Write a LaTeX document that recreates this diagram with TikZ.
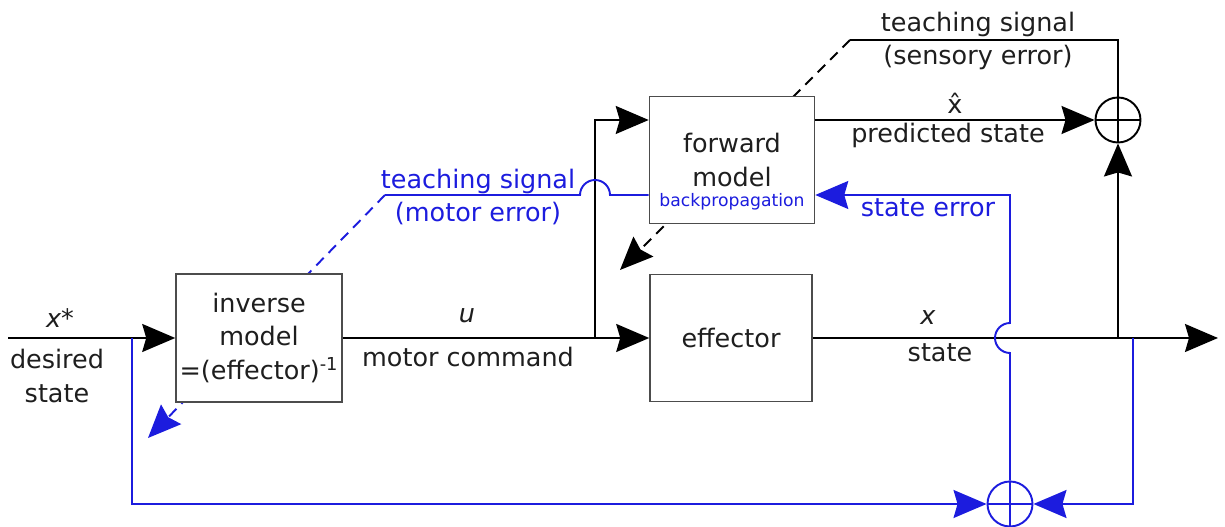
\documentclass[tikz,border=0pt]{standalone}
\usepackage{fontspec}
\setmainfont{DejaVu Sans}
\usetikzlibrary{arrows.meta,backgrounds}
\definecolor{sigblue}{RGB}{28,28,222}
\definecolor{txtgray}{RGB}{30,30,30}
\tikzset{
	block/.style={draw=black!70, line width=0.9pt, fill=white, text=txtgray, inner sep=0pt},
	sum/.style={circle, draw=#1, line width=1.1pt, fill=white, minimum size=0.9cm, inner sep=0pt,
		path picture={\draw[#1, line width=1.1pt] (path picture bounding box.north) -- (path picture bounding box.south)
			(path picture bounding box.west) -- (path picture bounding box.east);}},
	sum/.default=black,
	lbl/.style={text=txtgray, inner sep=1pt},
	teachline/.style={line width=1.1pt, dash pattern=on 6pt off 4pt},
}
\begin{document}
\begin{tikzpicture}[x=0.02cm, y=0.02cm, >={Stealth[length=6.6mm,width=5.6mm,inset=0.8mm]},
	line width=1.1pt, font=\fontsize{14.5}{19}\selectfont]
			\useasboundingbox (0,0) rectangle (1225,527);
			
			\node[block, minimum width=3.32cm, minimum height=2.56cm, align=center] (inv) at (259,189)
				{inverse\\model\\=(effector)\textsuperscript{-1}};
			\node[block, minimum width=3.3cm, minimum height=2.54cm] (fwd) at (732,367) {};
			\node[lbl, align=center] (fwdtxt) at (732,367) {forward\\model};
			\node[text=sigblue, inner sep=0pt, font=\fontsize{9.8}{12}\selectfont] (bprop) at (732,325) {backpropagation};
			\node[block, minimum width=3.24cm, minimum height=2.54cm] (eff) at (731,189) {effector};
			\node[sum] (sumtop) at (1118,407) {};
			\node[sum=sigblue] (sumbot) at (1010,23) {};
			
			\coordinate (src) at (8,189);
			\coordinate (br) at (595,189);
			\coordinate (tapu) at (1118,189);
			\coordinate (tapb) at (1133,189);
			\coordinate (out) at (1218,189);
			\coordinate (fb) at (132,189);
			\coordinate (tsens) at (850,487);
			\coordinate (tmot) at (385,332);
			\coordinate (fwdgrad) at (620,257);
			\coordinate (invgrad) at (148,89);
			
			\draw[->] (src) -- (inv.west);
			\draw[->] (inv.east) -- (eff.west);
			\draw[->] (br) |- (fwd.west |- sumtop);
			\draw[->] (fwd.east |- sumtop) -- (sumtop.west);
			\draw[->] (eff.east) -- (out);
			\draw[->] (tapu) -- (sumtop.south);
			\draw (sumtop.north) |- (tsens);
			
			\draw[sigblue, ->] (fb) |- (sumbot.west);
			\draw[sigblue, ->] (tapb) |- (sumbot.east);
			\draw[sigblue, ->] (sumbot.north) -- (1010,174) arc[start angle=270, end angle=90, radius=0.3cm]
				|- (fwd.east |- tmot);
			\draw[sigblue] (fwd.west |- tmot) -- (610,332) arc[start angle=0, end angle=180, radius=0.3cm] -- (tmot);
			
			\begin{scope}[on background layer]
			\draw[->, teachline] (tsens) -- (fwdgrad);
			\draw[->, teachline, sigblue] (tmot) -- (invgrad);
			\end{scope}
			
			\node[lbl] (xstar) at (60,209) {\itshape x*};
			\node[lbl, align=center] (xdes) at (57,151) {desired\\state};
			\node[lbl] (ulbl) at (467,211) {\itshape u};
			\node[lbl] (ucmd) at (468,170) {motor command};
			\node[lbl] (xlbl) at (928,209) {\itshape x};
			\node[lbl] (xst) at (940,174) {state};
			\node[lbl] (xhat) at (955,424) {\^x};
			\node[lbl] (xpred) at (948,392) {predicted state};
			\node[lbl, align=center] (tsig) at (978,486) {teaching signal\\(sensory error)};
			\node[text=sigblue, align=center, inner sep=1pt] (tmsig) at (478,330) {teaching signal\\(motor error)};
			\node[text=sigblue, inner sep=1pt] (serr) at (928,319) {state error};
		\end{tikzpicture}
\end{document}
